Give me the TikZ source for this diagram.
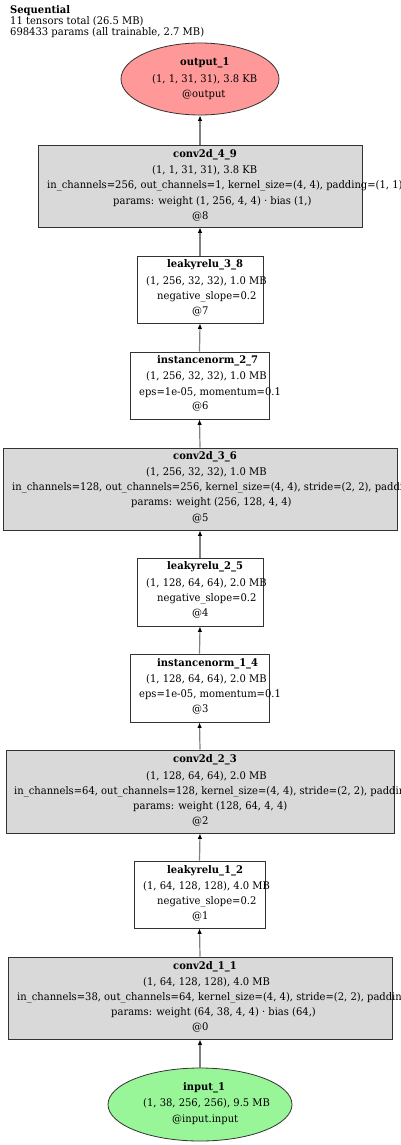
\documentclass[tikz,border=0pt]{standalone}
\usepackage{fontspec}
\setmainfont{DejaVu Serif}[FakeStretch=0.95]
\usetikzlibrary{shapes.geometric,arrows.meta}
\definecolor{convfill}{HTML}{D9D9D9}
\definecolor{outfill}{HTML}{FF9999}
\definecolor{infill}{HTML}{98F598}
\definecolor{edgecol}{HTML}{808080}
\definecolor{bordercol}{HTML}{333333}
\tikzset{
  base/.style={draw=bordercol, line width=0.8pt, inner sep=0pt},
  convbox/.style={base, rectangle, fill=convfill},
  plainbox/.style={base, rectangle, fill=white},
  outell/.style={base, ellipse, fill=outfill},
  inell/.style={base, ellipse, fill=infill},
  txt/.style={inner sep=0pt, anchor=mid west, font=\fontsize{10.5}{12}\selectfont},
  btxt/.style={txt, font=\fontsize{10.5}{12}\selectfont\bfseries},
  edge/.style={draw=edgecol, line width=1.2pt, -{Latex[length=5.5pt,width=4.5pt,color=black,fill=black]}}
}
\begin{document}
\begin{tikzpicture}[x=1pt,y=-1pt]
\useasboundingbox (0,0) rectangle (400,1145);
\clip (0,0) rectangle (400,1145);
% header
\node[btxt] (h1) at (10,10.7) {Sequential};
\node[txt] (h2) at (10,22.3) {11 tensors total (26.5 MB)};
\node[txt] (h3) at (10,33.3) {698433 params (all trainable, 2.7 MB)};
% shapes
\node[outell, minimum width=158pt, minimum height=72pt] (out) at (200,79) {};
\node[convbox, minimum width=324pt, minimum height=82pt] (c49) at (200,186) {};
\node[plainbox, minimum width=126pt, minimum height=67pt] (lr38) at (200,289.5) {};
\node[plainbox, minimum width=139pt, minimum height=67pt] (in27) at (199.5,385.5) {};
\node[convbox, minimum width=394pt, minimum height=82pt] (c36) at (200,489) {};
\node[plainbox, minimum width=126pt, minimum height=68pt] (lr25) at (200,592) {};
\node[plainbox, minimum width=139pt, minimum height=68pt] (in14) at (199.5,688) {};
\node[convbox, minimum width=388pt, minimum height=83pt] (c23) at (200,791.5) {};
\node[plainbox, minimum width=131pt, minimum height=67pt] (lr12) at (199.5,894.5) {};
\node[convbox, minimum width=384pt, minimum height=82pt] (c11) at (200,998) {};
\node[inell, minimum width=184pt, minimum height=73pt] (inp) at (200,1104.5) {};
% edges
\draw[edge] (c49.north) -- (out.south);
\draw[edge] (lr38.north) -- (c49.south);
\draw[edge] (in27.north) -- (lr38.south);
\draw[edge] (c36.north) -- (in27.south);
\draw[edge] (lr25.north) -- (c36.south);
\draw[edge] (in14.north) -- (lr25.south);
\draw[edge] (c23.north) -- (in14.south);
\draw[edge] (lr12.north) -- (c23.south);
\draw[edge] (c11.north) -- (lr12.south);
\draw[edge] (inp.north) -- (c11.south);
% output_1
\node[btxt] (out-1) at (180,63) {output\_1};
\node[txt] (out-2) at (152,80) {(1, 1, 31, 31), 3.8 KB};
\node[txt] (out-3) at (182,94.5) {@output};
% conv2d_4_9
\node[btxt] (c49-1) at (173,155) {conv2d\_4\_9};
\node[txt] (c49-2) at (152,171) {(1, 1, 31, 31), 3.8 KB};
\node[txt] (c49-3) at (47,186) {in\_channels=256, out\_channels=1, kernel\_size=(4, 4), padding=(1, 1))};
\node[txt] (c49-4) at (113,202) {params: weight (1, 256, 4, 4) · bias (1,)};
\node[txt] (c49-5) at (192,217) {@8};
% leakyrelu_3_8
\node[btxt] (lr38-1) at (167,265) {leakyrelu\_3\_8};
\node[txt] (lr38-2) at (146,282) {(1, 256, 32, 32), 1.0 MB};
\node[txt] (lr38-3) at (157,297) {negative\_slope=0.2};
\node[txt] (lr38-4) at (192,312) {@7};
% instancenorm_2_7
\node[btxt] (in27-1) at (157,361) {instancenorm\_2\_7};
\node[txt] (in27-2) at (146,377) {(1, 256, 32, 32), 1.0 MB};
\node[txt] (in27-3) at (139,393) {eps=1e-05, momentum=0.1};
\node[txt] (in27-4) at (192,407) {@6};
% conv2d_3_6
\node[btxt] (c36-1) at (173,457) {conv2d\_3\_6};
\node[txt] (c36-2) at (146,473) {(1, 256, 32, 32), 1.0 MB};
\node[txt] (c36-3) at (12,488) {in\_channels=128, out\_channels=256, kernel\_size=(4, 4), stride=(2, 2), padding=(1, 1)};
\node[txt] (c36-4) at (131,503) {params: weight (256, 128, 4, 4)};
\node[txt] (c36-5) at (192,519) {@5};
% leakyrelu_2_5
\node[btxt] (lr25-1) at (167,567) {leakyrelu\_2\_5};
\node[txt] (lr25-2) at (146,584) {(1, 128, 64, 64), 2.0 MB};
\node[txt] (lr25-3) at (157,599) {negative\_slope=0.2};
\node[txt] (lr25-4) at (192,614) {@4};
% instancenorm_1_4
\node[btxt] (in14-1) at (157,664) {instancenorm\_1\_4};
\node[txt] (in14-2) at (146,680) {(1, 128, 64, 64), 2.0 MB};
\node[txt] (in14-3) at (139,695) {eps=1e-05, momentum=0.1};
\node[txt] (in14-4) at (192,710) {@3};
% conv2d_2_3
\node[btxt] (c23-1) at (173,760) {conv2d\_2\_3};
\node[txt] (c23-2) at (146,777) {(1, 128, 64, 64), 2.0 MB};
\node[txt] (c23-3) at (14,792) {in\_channels=64, out\_channels=128, kernel\_size=(4, 4), stride=(2, 2), padding=(1, 1)};
\node[txt] (c23-4) at (133,807) {params: weight (128, 64, 4, 4)};
\node[txt] (c23-5) at (192,822) {@2};
% leakyrelu_1_2
\node[btxt] (lr12-1) at (167,871) {leakyrelu\_1\_2};
\node[txt] (lr12-2) at (143,887) {(1, 64, 128, 128), 4.0 MB};
\node[txt] (lr12-3) at (157,902) {negative\_slope=0.2};
\node[txt] (lr12-4) at (192,917) {@1};
% conv2d_1_1
\node[btxt] (c11-1) at (173,967) {conv2d\_1\_1};
\node[txt] (c11-2) at (143,983) {(1, 64, 128, 128), 4.0 MB};
\node[txt] (c11-3) at (17,998) {in\_channels=38, out\_channels=64, kernel\_size=(4, 4), stride=(2, 2), padding=(1, 1)};
\node[txt] (c11-4) at (111,1013) {params: weight (64, 38, 4, 4) · bias (64,)};
\node[txt] (c11-5) at (192,1028) {@0};
% input_1
\node[btxt] (inp-1) at (183,1088) {input\_1};
\node[txt] (inp-2) at (143,1104) {(1, 38, 256, 256), 9.5 MB};
\node[txt] (inp-3) at (172,1120) {@input.input};
\end{tikzpicture}
\end{document}
